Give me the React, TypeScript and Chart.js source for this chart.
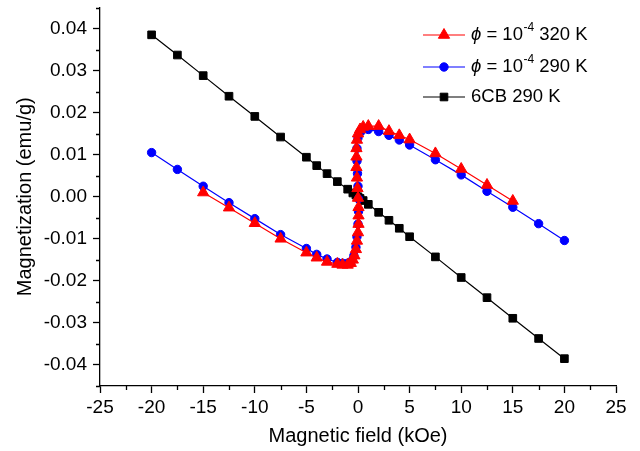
import React, { useEffect, useRef } from 'react';
import { Chart, registerables } from 'chart.js';

Chart.register(...registerables);

// Axis ticks
const FIELD_TICKS = [-25, -20, -15, -10, -5, 0, 5, 10, 15, 20, 25];
const FIELD_MINOR = [-22.5, -17.5, -12.5, -7.5, -2.5, 2.5, 7.5, 12.5, 17.5, 22.5];
const MAG_TICKS = [-0.04, -0.03, -0.02, -0.01, 0, 0.01, 0.02, 0.03, 0.04];
const MAG_MINOR = [-0.045, -0.035, -0.025, -0.015, -0.005, 0.005, 0.015, 0.025, 0.035, 0.045];

// phi = 1e-4, 320 K (red triangles)
const red320Field = [-15, -12.5, -10, -7.5, -5, -4, -3, -2, -1.5, -1, -0.7, -0.5, -0.35, -0.2, -0.1, 0, 0.05, 0.05, 0.05, 0, -0.05, -0.1, -0.15, -0.15, -0.15, -0.1, 0, 0.2, 0.5, 1, 2, 3, 4, 5, 7.5, 10, 12.5, 15];
const red320Mag = [0.0010, -0.0026, -0.0063, -0.0100, -0.0133, -0.0145, -0.0155, -0.0160, -0.0162, -0.0162, -0.0158, -0.0150, -0.0140, -0.0125, -0.0105, -0.0085, -0.0065, -0.0045, -0.0025, -0.0003, 0.0020, 0.0045, 0.0070, 0.0095, 0.0115, 0.0135, 0.0150, 0.0160, 0.0166, 0.0168, 0.0168, 0.0156, 0.0146, 0.0136, 0.0103, 0.0066, 0.0028, -0.0010];

// phi = 1e-4, 290 K (blue circles)
const blue290Field = [-20, -17.5, -15, -12.5, -10, -7.5, -5, -4, -3, -2, -1.5, -1, -0.6, -0.4, -0.2, -0.1, 0, 0.05, 0.05, 0, -0.05, -0.1, -0.1, 0, 0.3, 1, 2, 3, 4, 5, 7.5, 10, 12.5, 15, 17.5, 20];
const blue290Mag = [0.0105, 0.0065, 0.0025, -0.0014, -0.0052, -0.0090, -0.0123, -0.0137, -0.0148, -0.0156, -0.0158, -0.0158, -0.0152, -0.0140, -0.0120, -0.0095, -0.0065, -0.0035, -0.0005, 0.0025, 0.0055, 0.0085, 0.0115, 0.0140, 0.0155, 0.0160, 0.0155, 0.0146, 0.0135, 0.0123, 0.0088, 0.0052, 0.0013, -0.0025, -0.0064, -0.0104];

// 6CB 290 K (black squares)
const cb290Field = [-20, -17.5, -15, -12.5, -10, -7.5, -5, -4, -3, -2, -1, -0.5, -0.2, 0, 0.2, 0.5, 1, 2, 3, 4, 5, 7.5, 10, 12.5, 15, 17.5, 20];
const cb290Mag = [0.0385, 0.0337, 0.0288, 0.0239, 0.0191, 0.0142, 0.0094, 0.0074, 0.0055, 0.0036, 0.0018, 0.0009, 0.0004, 0.0, -0.0004, -0.0009, -0.0018, -0.0037, -0.0056, -0.0075, -0.0095, -0.0143, -0.0192, -0.0240, -0.0289, -0.0337, -0.0385];

const SERIES_NAMES = ['320 K', '290 K', '6CB 290 K'];
const SERIES_COLORS = ['#ff0000', '#0000ff', '#000000'];
const SERIES_STYLES = ['triangle', 'circle', 'rect'];

const FONT = '"Liberation Sans", Arial, sans-serif';

const toPoints = (xs: number[], ys: number[]) => xs.map((x, i) => ({ x, y: ys[i] }));

function drawMarker(ctx: CanvasRenderingContext2D, style: string, x: number, y: number, color: string) {
  ctx.save();
  ctx.fillStyle = color;
  ctx.strokeStyle = color;
  ctx.lineWidth = 1;
  ctx.beginPath();
  if (style === 'triangle') {
    const r = 6.5;
    for (let k = 0; k < 3; k++) {
      const a = (k * 2 * Math.PI) / 3;
      const px = x + Math.sin(a) * r;
      const py = y - Math.cos(a) * r;
      if (k === 0) ctx.moveTo(px, py); else ctx.lineTo(px, py);
    }
    ctx.closePath();
  } else if (style === 'circle') {
    ctx.arc(x, y, 4.2, 0, Math.PI * 2);
  } else {
    const h = 3.8;
    ctx.rect(x - h, y - h, 2 * h, 2 * h);
  }
  ctx.fill();
  ctx.stroke();
  ctx.restore();
}

const legendPlugin = {
  id: 'customLegend',
  afterDraw(chart: any) {
    const ctx: CanvasRenderingContext2D = chart.ctx;
    const rows = [35, 67, 97];
    const x0 = 423, x1 = 465, tx = 471;
    ctx.save();
    ctx.textBaseline = 'middle';
    ctx.fillStyle = '#000';
    rows.forEach((y, i) => {
      ctx.strokeStyle = SERIES_COLORS[i];
      ctx.lineWidth = 1.2;
      ctx.beginPath();
      ctx.moveTo(x0, y);
      ctx.lineTo(x1, y);
      ctx.stroke();
      drawMarker(ctx, SERIES_STYLES[i], (x0 + x1) / 2, y, SERIES_COLORS[i]);
      let x = tx;
      if (i < 2) {
        ctx.font = `italic 18.5px ${FONT}`;
        ctx.fillText('\u03d5', x, y);
        x += ctx.measureText('\u03d5').width;
        ctx.font = `18.5px ${FONT}`;
        const a = ' = 10';
        ctx.fillText(a, x, y);
        x += ctx.measureText(a).width;
        ctx.font = `12px ${FONT}`;
        ctx.fillText('-4', x + 0.5, y - 7);
        x += ctx.measureText('-4').width + 0.5;
        ctx.font = `18.5px ${FONT}`;
        ctx.fillText(' ' + SERIES_NAMES[i], x, y);
      } else {
        ctx.font = `18.5px ${FONT}`;
        ctx.fillText(SERIES_NAMES[i], x, y);
      }
    });
    ctx.restore();
  },
};

const minorTickPlugin = {
  id: 'minorTicks',
  afterDraw(chart: any) {
    const ctx: CanvasRenderingContext2D = chart.ctx;
    const xs = chart.scales.x;
    const ys = chart.scales.y;
    const area = chart.chartArea;
    ctx.save();
    ctx.strokeStyle = '#000';
    ctx.lineWidth = 1.3;
    ctx.beginPath();
    FIELD_MINOR.forEach((v) => {
      const px = Math.round(xs.getPixelForValue(v)) + 0.5;
      ctx.moveTo(px, area.bottom);
      ctx.lineTo(px, area.bottom + 4);
    });
    MAG_MINOR.forEach((v) => {
      const py = Math.round(ys.getPixelForValue(v)) + 0.5;
      ctx.moveTo(area.left, py);
      ctx.lineTo(area.left - 4, py);
    });
    ctx.stroke();
    ctx.restore();
  },
};

export default function App() {
  const canvasRef = useRef<HTMLCanvasElement | null>(null);

  useEffect(() => {
    document.body.style.margin = '0';
    const canvas = canvasRef.current;
    if (!canvas) return;
    const datasets = [
      { label: SERIES_NAMES[0], data: toPoints(red320Field, red320Mag), color: SERIES_COLORS[0], style: SERIES_STYLES[0], r: 6.5 },
      { label: SERIES_NAMES[1], data: toPoints(blue290Field, blue290Mag), color: SERIES_COLORS[1], style: SERIES_STYLES[1], r: 4.2 },
      { label: SERIES_NAMES[2], data: toPoints(cb290Field, cb290Mag), color: SERIES_COLORS[2], style: SERIES_STYLES[2], r: 5.4 },
    ].map((d) => ({
      label: d.label,
      data: d.data,
      showLine: true,
      borderColor: d.color,
      backgroundColor: d.color,
      borderWidth: 1.2,
      pointStyle: d.style as any,
      pointRadius: d.r,
      pointBorderWidth: 1,
      pointBackgroundColor: d.color,
      pointBorderColor: d.color,
      tension: 0,
    }));

    const chart = new Chart(canvas, {
      type: 'scatter',
      data: { datasets },
      options: {
        animation: false,
        responsive: false,
        devicePixelRatio: 1,
        layout: { padding: { top: 7, right: 24, left: 0, bottom: 0 } },
        plugins: { legend: { display: false }, tooltip: { enabled: false } },
        scales: {
          x: {
            type: 'linear',
            min: -25,
            max: 25,
            afterBuildTicks: (scale: any) => {
              scale.ticks = FIELD_TICKS.map((v) => ({ value: v }));
            },
            afterFit: (scale: any) => {
              scale.height = 65;
              scale.paddingLeft = 0;
              scale.paddingRight = 0;
            },
            grid: { display: true, drawOnChartArea: false, drawTicks: true, tickLength: 7, tickColor: '#000', tickWidth: 1.3 },
            border: { display: true, color: '#000', width: 1.3 },
            ticks: {
              color: '#000',
              font: { family: FONT, size: 19 },
              padding: 3,
              maxRotation: 0,
              callback: (v: any) => String(v),
            },
            title: {
              display: true,
              text: 'Magnetic field (kOe)',
              color: '#000',
              font: { family: FONT, size: 20 },
              padding: { top: 0, bottom: 3 },
            },
          },
          y: {
            type: 'linear',
            min: -0.045,
            max: 0.045,
            afterBuildTicks: (scale: any) => {
              scale.ticks = MAG_TICKS.map((v) => ({ value: v }));
            },
            afterFit: (scale: any) => {
              scale.width = 100;
              scale.paddingTop = 0;
              scale.paddingBottom = 0;
            },
            grid: { display: true, drawOnChartArea: false, drawTicks: true, tickLength: 7, tickColor: '#000', tickWidth: 1.3 },
            border: { display: true, color: '#000', width: 1.3 },
            ticks: {
              color: '#000',
              font: { family: FONT, size: 19 },
              padding: 6,
              callback: (v: any) => Number(v).toFixed(2),
            },
            title: {
              display: true,
              text: 'Magnetization (emu/g)',
              color: '#000',
              font: { family: FONT, size: 20 },
              padding: { top: 13, bottom: 0 },
            },
          },
        },
      },
      plugins: [minorTickPlugin, legendPlugin],
    });
    return () => chart.destroy();
  }, []);

  return (
    <div style={{ width: 640, height: 451 }}>
      <canvas ref={canvasRef} width={640} height={451} style={{ display: 'block' }} />
    </div>
  );
}
